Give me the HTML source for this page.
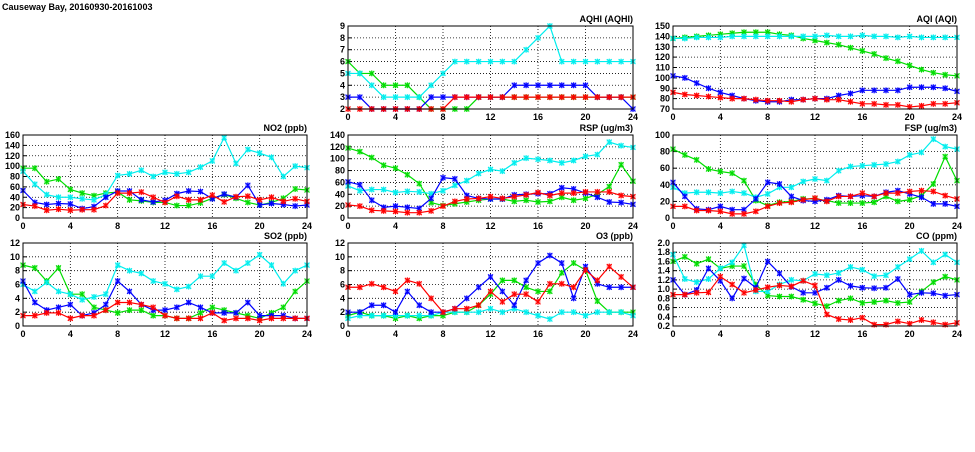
<!DOCTYPE html>
<html><head><meta charset="utf-8"><style>
body{margin:0;background:#fff;width:975px;height:447px;overflow:hidden}
svg text{font-family:"Liberation Sans",sans-serif;font-weight:bold;font-size:9px;fill:#000}
</style></head><body>
<svg id="chart" width="975" height="447" xmlns="http://www.w3.org/2000/svg">
<text x="2" y="10" font-size="10">Causeway Bay, 20160930-20161003</text>
</svg>
<script>
const hours = [0,1,2,3,4,5,6,7,8,9,10,11,12,13,14,15,16,17,18,19,20,21,22,23,24];
const xTicks = [0,4,8,12,16,20,24];
const seriesColors = ["#00dd00","#00eeee","#0000ff","#ff0000"];
const aqhiGreen=[6,5,5,4,4,4,3,2,2,2,2,3,3,3,3,3,3,3,3,3,3,3,3,3,3];
const aqhiCyan=[5,5,4,3,3,3,3,4,5,6,6,6,6,6,6,7,8,9,6,6,6,6,6,6,6];
const aqhiBlue=[3,3,2,2,2,2,2,3,3,3,3,3,3,3,4,4,4,4,4,4,4,3,3,3,2];
const aqhiRed=[2,2,2,2,2,2,2,2,2,3,3,3,3,3,3,3,3,3,3,3,3,3,3,3,3];
const aqiGreen=[138,139,140,141,142,143,144,144,144,142,141,138,136,134,132,129,126,123,119,116,112,108,105,103,102];
const aqiCyan=[138,138,139,139,139,140,140,140,140,140,140,140,140,141,140,140,141,140,140,139,140,139,139,139,139];
const aqiBlue=[102,100,95,90,86,83,80,78,77,77,79,79,80,80,83,85,88,88,88,88,91,91,91,90,87];
const aqiRed=[86,84,83,82,81,80,80,79,78,78,77,79,80,79,79,77,75,75,74,74,72,73,75,75,76];
const no2Green=[96,96,70,75,55,48,43,48,50,35,33,30,30,24,24,29,38,45,38,30,25,30,38,56,54];
const no2Cyan=[90,65,45,40,40,37,35,45,82,85,92,80,88,85,88,98,110,155,105,132,125,117,80,100,97];
const no2Blue=[53,30,26,28,27,18,22,40,52,52,35,31,34,47,52,51,37,46,40,63,25,28,26,23,25];
const no2Red=[26,23,15,17,15,16,16,24,48,48,50,40,30,42,35,35,44,31,41,42,35,40,32,37,32];
const rspGreen=[118,112,102,89,84,73,58,26,21,24,27,30,32,32,28,30,27,28,35,30,33,40,53,90,62];
const rspCyan=[54,46,48,48,43,45,44,41,46,55,63,75,82,79,93,101,99,97,93,97,104,107,128,122,119];
const rspBlue=[61,56,30,18,20,18,16,33,68,66,38,33,32,32,39,40,41,41,51,49,42,35,27,26,23];
const rspRed=[22,20,13,12,11,9,9,12,20,28,32,33,36,33,36,39,43,38,42,42,44,44,44,38,36];
const fspGreen=[83,76,70,59,56,54,45,21,15,19,20,23,23,21,18,18,18,19,26,20,22,27,41,74,45];
const fspCyan=[37,30,31,31,30,32,30,25,29,37,37,44,47,45,57,62,63,64,65,68,76,79,95,86,83];
const fspBlue=[43,26,11,10,14,10,10,23,43,41,26,21,20,22,27,26,27,26,31,33,29,25,17,17,14];
const fspRed=[14,14,9,9,8,5,5,8,14,18,19,22,24,20,26,26,30,26,30,30,32,33,32,27,23];
const so2Green=[8.8,8.4,6.5,8.4,4.6,4.6,2.7,2.3,1.9,2.3,2.3,1.5,1.5,1.1,1.1,1.9,2.7,2.3,1.9,1.5,1.1,1.9,2.7,5,6.5];
const so2Cyan=[6,5,6.3,5,4.6,3.8,4.2,4.6,8.8,8,7.6,6.5,6.1,5.3,5.7,7.2,7.2,9.1,8,9.1,10.3,8.8,6.1,8,8.8];
const so2Blue=[6.5,3.4,2.3,2.7,3.1,1.5,1.9,3.1,6.5,5,3.1,2.3,2.3,2.7,3.4,2.7,1.9,1.9,1.9,3.4,1.5,1.5,1.5,1.1,1.1];
const so2Red=[1.5,1.5,1.9,1.9,1.1,1.5,1.5,2.3,3.4,3.4,3.1,2.7,1.5,1.1,1.1,1.1,1.9,0.8,1.1,1.1,0.8,1.1,1.1,1.1,1.1];
const o3Green=[1.5,2,1.5,1.5,1.1,1.5,1.1,1.5,1.5,2,2,3,4.6,6.6,6.6,5.6,5,5,7.7,9.1,8.1,3.6,2,2,2];
const o3Cyan=[1.1,1.5,1.5,1.5,1.5,1.5,1.5,1.5,2,2,2,2,2.5,2,2.5,2,1.5,1,2,2,1.5,2,2,2,1.5];
const o3Blue=[2,2,3,3,2,5,3,2,2,2.5,4,5.6,7.1,5,3,6.6,9.1,10.2,9.1,4,8.6,6.1,5.6,5.6,5.6];
const o3Red=[5.6,5.6,6.1,5.6,5,6.6,6.1,4,2,2.5,2.5,3,5,3.5,4.6,4.6,3.5,6.1,6.1,5.6,8.1,6.6,8.6,7.1,5.6];
const coGreen=[1.6,1.7,1.55,1.65,1.45,1.5,1.5,1.1,0.86,0.84,0.84,0.77,0.69,0.63,0.75,0.8,0.7,0.72,0.75,0.7,0.72,0.95,1.15,1.27,1.2];
const coCyan=[1.75,1.22,1.15,1.22,1.45,1.58,1.95,0.95,0.95,1.1,1.2,1.18,1.33,1.3,1.35,1.48,1.42,1.28,1.3,1.48,1.65,1.83,1.58,1.75,1.58];
const coBlue=[1.2,0.88,0.98,1.45,1.18,0.8,1.23,1.03,1.6,1.34,1.05,0.92,0.92,1.03,1.2,1.07,1.03,1.02,1.03,1.22,0.88,0.92,0.91,0.86,0.88];
const coRed=[0.88,0.88,0.92,0.93,1.27,1.1,0.92,0.98,1.04,1.08,1.06,1.18,1.08,0.45,0.35,0.33,0.38,0.23,0.23,0.3,0.25,0.33,0.28,0.23,0.27];
const aqhiTicks=[2,3,4,5,6,7,8,9];
const aqiTicks=[70,80,90,100,110,120,130,140,150];
const no2Ticks=[0,20,40,60,80,100,120,140,160];
const rspTicks=[0,20,40,60,80,100,120,140];
const fspTicks=[0,20,40,60,80,100];
const so2Ticks=[0,2,4,6,8,10,12];
const o3Ticks=[0,2,4,6,8,10,12];
const coTicks=[0.2,0.4,0.6,0.8,1.0,1.2,1.4,1.6,1.8,2.0];

const NS="http://www.w3.org/2000/svg";
const svg=document.getElementById('chart');
function mk(tag,attrs,parent){const e=document.createElementNS(NS,tag);for(const k in attrs)e.setAttribute(k,attrs[k]);(parent||svg).appendChild(e);return e;}

const panels=[
 {key:'aqhi',title:'AQHI (AQHI)',x:348,y:26,w:285,ticks:aqhiTicks,dec:0,series:[aqhiGreen,aqhiCyan,aqhiBlue,aqhiRed]},
 {key:'aqi',title:'AQI (AQI)',x:673,y:26,w:284,ticks:aqiTicks,dec:0,series:[aqiGreen,aqiCyan,aqiBlue,aqiRed]},
 {key:'no2',title:'NO2 (ppb)',x:23,y:135,w:284,ticks:no2Ticks,dec:0,series:[no2Green,no2Cyan,no2Blue,no2Red]},
 {key:'rsp',title:'RSP (ug/m3)',x:348,y:135,w:285,ticks:rspTicks,dec:0,series:[rspGreen,rspCyan,rspBlue,rspRed]},
 {key:'fsp',title:'FSP (ug/m3)',x:673,y:135,w:284,ticks:fspTicks,dec:0,series:[fspGreen,fspCyan,fspBlue,fspRed]},
 {key:'so2',title:'SO2 (ppb)',x:23,y:243,w:284,ticks:so2Ticks,dec:0,series:[so2Green,so2Cyan,so2Blue,so2Red]},
 {key:'o3',title:'O3 (ppb)',x:348,y:243,w:285,ticks:o3Ticks,dec:0,series:[o3Green,o3Cyan,o3Blue,o3Red]},
 {key:'co',title:'CO (ppm)',x:673,y:243,w:284,ticks:coTicks,dec:1,series:[coGreen,coCyan,coBlue,coRed]}
];
const H=83;
const names=['green','cyan','blue','red'];
panels.forEach(p=>{
  const g=mk('g',{});
  
  
  const ymin=p.ticks[0], ymax=p.ticks[p.ticks.length-1];
  const xs=v=>p.x+v/24*p.w;
  const ys=v=>p.y+H-(v-ymin)/(ymax-ymin)*H;
  // grid
  p.ticks.forEach((t,i)=>{
    if(i>0&&i<p.ticks.length-1){const l=mk('line',{x1:p.x,x2:p.x+p.w,y1:ys(t),y2:ys(t),stroke:'#000','stroke-width':0.8,'stroke-dasharray':'1,2'},g);}
    const tx=mk('text',{x:p.x-3,y:ys(t)+3,'text-anchor':'end'},g);tx.textContent=t.toFixed(p.dec);
    
    mk('line',{x1:p.x,x2:p.x+4,y1:ys(t),y2:ys(t),stroke:'#000'},g);
  });
  xTicks.forEach((t,i)=>{
    if(i>0&&i<xTicks.length-1){const l=mk('line',{x1:xs(t),x2:xs(t),y1:p.y,y2:p.y+H,stroke:'#000','stroke-width':0.8,'stroke-dasharray':'1,2'},g);}
    const tx=mk('text',{x:xs(t),y:p.y+H+11,'text-anchor':'middle'},g);tx.textContent=t;
    
  });
  const ttl=mk('text',{x:p.x+p.w,y:p.y-4,'text-anchor':'end'},g);ttl.textContent=p.title;
  
  
  p.series.forEach((s,si)=>{
    const c=seriesColors[si];
    const pts=s.map((v,i)=>xs(hours[i])+','+ys(v)).join(' ');
    const pl=mk('polyline',{points:pts,fill:'none',stroke:c,'stroke-width':1.2},g);
    
    
    s.forEach((v,i)=>{
      const cx=xs(hours[i]),cy=ys(v);
      const m=mk('g',{},g);
      
      
      mk('rect',{x:cx-2.5,y:cy-2.5,width:5,height:5,fill:c,'fill-opacity':0.45},m);
      mk('path',{d:`M${cx-2.5},${cy-2.5}L${cx+2.5},${cy+2.5}M${cx+2.5},${cy-2.5}L${cx-2.5},${cy+2.5}M${cx},${cy-3}L${cx},${cy+3}`,stroke:c,'stroke-width':1},m);
    });
  });
  const fr=mk('rect',{x:p.x,y:p.y,width:p.w,height:H,fill:'none',stroke:'#000','stroke-width':1},g);
  
  
});
</script>
</body></html>
